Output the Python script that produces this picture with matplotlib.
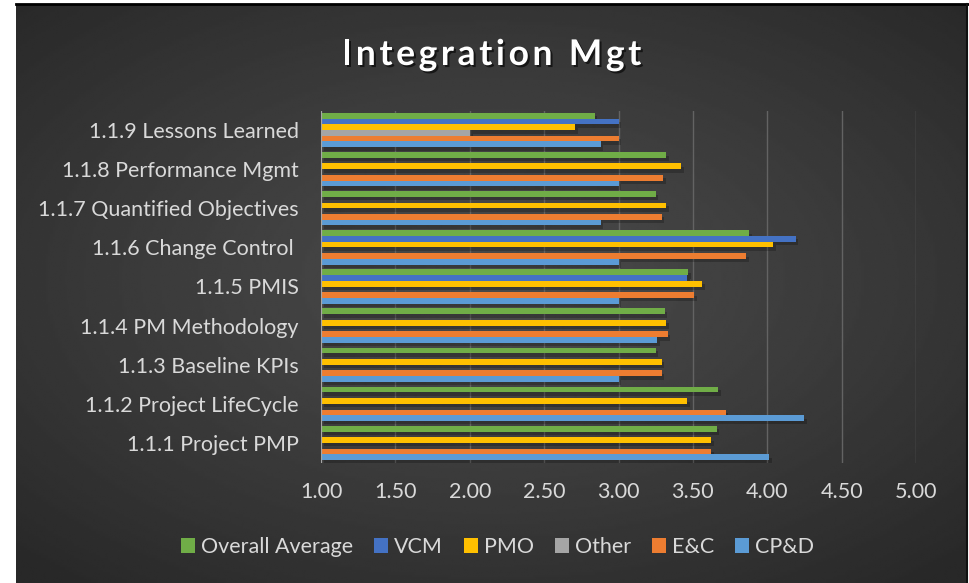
import numpy as np
import matplotlib
matplotlib.use("Agg")
import matplotlib.pyplot as plt
import matplotlib.patheffects as pe
from matplotlib.transforms import ScaledTranslation
from matplotlib.patches import Patch

plt.rcParams["font.family"] = ["Lato", "DejaVu Sans"]

categories = ["1.1.1 Project PMP", "1.1.2 Project LifeCycle", "1.1.3 Baseline KPIs",
              "1.1.4 PM Methodology", "1.1.5 PMIS", "1.1.6 Change Control ",
              "1.1.7 Quantified Objectives", "1.1.8 Performance Mgmt", "1.1.9 Lessons Learned"]
nan = np.nan
cpd = [4.01, 4.25, 3.00, 3.26, 3.00, 3.00, 2.88, 3.00, 2.88]
ec = [3.62, 3.72, 3.29, 3.33, 3.51, 3.86, 3.29, 3.30, 3.00]
other = [nan, nan, nan, nan, nan, nan, nan, nan, 2.00]
pmo = [3.62, 3.46, 3.29, 3.32, 3.56, 4.04, 3.32, 3.42, 2.71]
vcm = [nan, nan, nan, nan, 3.46, 4.19, nan, nan, 3.00]
overall = [3.66, 3.67, 3.25, 3.31, 3.47, 3.88, 3.25, 3.32, 2.84]

# bottom to top inside each group
series = [("CP&D", cpd, "#5B9BD5"), ("E&C", ec, "#ED7D31"), ("Other", other, "#A5A5A5"),
          ("PMO", pmo, "#FFC000"), ("VCM", vcm, "#4472C4"), ("Overall Average", overall, "#70AD47")]
xticks = [1.0, 1.5, 2.0, 2.5, 3.0, 3.5, 4.0, 4.5, 5.0]
title = "Integration Mgt"

W, H = 970, 583
fig = plt.figure(figsize=(W / 100, H / 100), dpi=100, facecolor="white")

# chart background with radial gradient
bg = fig.add_axes([16 / W, 0, (967 - 16) / W, (H - 4) / H])
gx, gy = np.meshgrid(np.linspace(-1, 1, 400), np.linspace(-1, 1, 240))
r = np.sqrt((gx * 0.95) ** 2 + ((gy + 0.05) * 1.0) ** 2)
grad = 0.29 - 0.13 * np.clip(r / 1.35, 0, 1) ** 1.2
bg.imshow(grad, cmap="gray", vmin=0, vmax=1, aspect="auto", extent=[0, 1, 0, 1],
          interpolation="bilinear")
bg.set_xlim(0, 1)
bg.set_ylim(0, 1)
bg.axis("off")
fig.add_artist(plt.Line2D([16 / W, 968 / W], [1 - 4 / H, 1 - 4 / H], color="black", lw=2))
fig.add_artist(plt.Line2D([967 / W, 967 / W], [0, 1 - 4 / H], color="#111111", lw=1.5))

ax = fig.add_axes([321 / W, 1 - 462.5 / H, (916 - 321) / W, (462.5 - 110.5) / H])
ax.set_facecolor("none")

y = np.arange(len(categories))
bh = 0.146
shadow_tr = ax.transData + ScaledTranslation(2 / 72, -2.5 / 72, fig.dpi_scale_trans)
for i, (name, vals, col) in enumerate(series):
    v = np.array(vals, dtype=float)
    ok = ~np.isnan(v)
    pos = (y + (i - 2.5) * bh)[ok]
    sh = ax.barh(pos, v[ok] - 1, left=1, height=bh, color="black", alpha=0.22, zorder=2)
    for p in sh:
        p.set_transform(shadow_tr)
    ax.barh(pos, v[ok] - 1, left=1, height=bh, color=col, zorder=3, label=name)

ax.set_xlim(1, 5)
ax.set_ylim(-0.5, len(categories) - 0.5)
ax.set_xticks(xticks)
ax.set_xticklabels([f"{t:.2f}" for t in xticks])
ax.set_yticks(y)
ax.set_yticklabels(categories)
ax.tick_params(colors="#d9d9d9", labelsize=15.5, length=0)
ax.tick_params(axis="x", pad=14)
ax.tick_params(axis="y", pad=16)
for t in xticks[1:]:
    ax.axvline(t, color="#636363", lw=1, zorder=1)
ax.axvline(1, color="#a6a6a6", lw=1.6, zorder=4)
for s in ax.spines.values():
    s.set_visible(False)

# title with extra letter spacing
fig.canvas.draw()
renderer = fig.canvas.get_renderer()
tkw = dict(color="white", fontsize=25.5, fontweight="bold", va="center",
           path_effects=[pe.withSimplePatchShadow(offset=(1.5, -1.5), shadow_rgbFace="black", alpha=0.6)])
widths = []
for ch in title:
    t = fig.text(0, 0, ch if ch != " " else "i", **tkw)
    widths.append(t.get_window_extent(renderer).width)
    t.remove()
spacing = 3.6
total = sum(widths) + spacing * (len(title) - 1)
x0 = 491.5 - total / 2
for ch, w in zip(title, widths):
    if ch != " ":
        fig.text(x0 / W, 1 - 55 / H, ch, ha="left", **tkw)
    x0 += w + spacing

handles = [Patch(facecolor=c, label=n) for n, v, c in series[::-1]]
fig.legend(handles=handles, loc="center", bbox_to_anchor=(0.513, 1 - 547 / H), ncol=6,
           frameon=False, fontsize=15.5, labelcolor="#d9d9d9", handlelength=0.65,
           handleheight=0.65, handletextpad=0.3, columnspacing=0.95)

fig.savefig("out.png", dpi=100, facecolor="white")
